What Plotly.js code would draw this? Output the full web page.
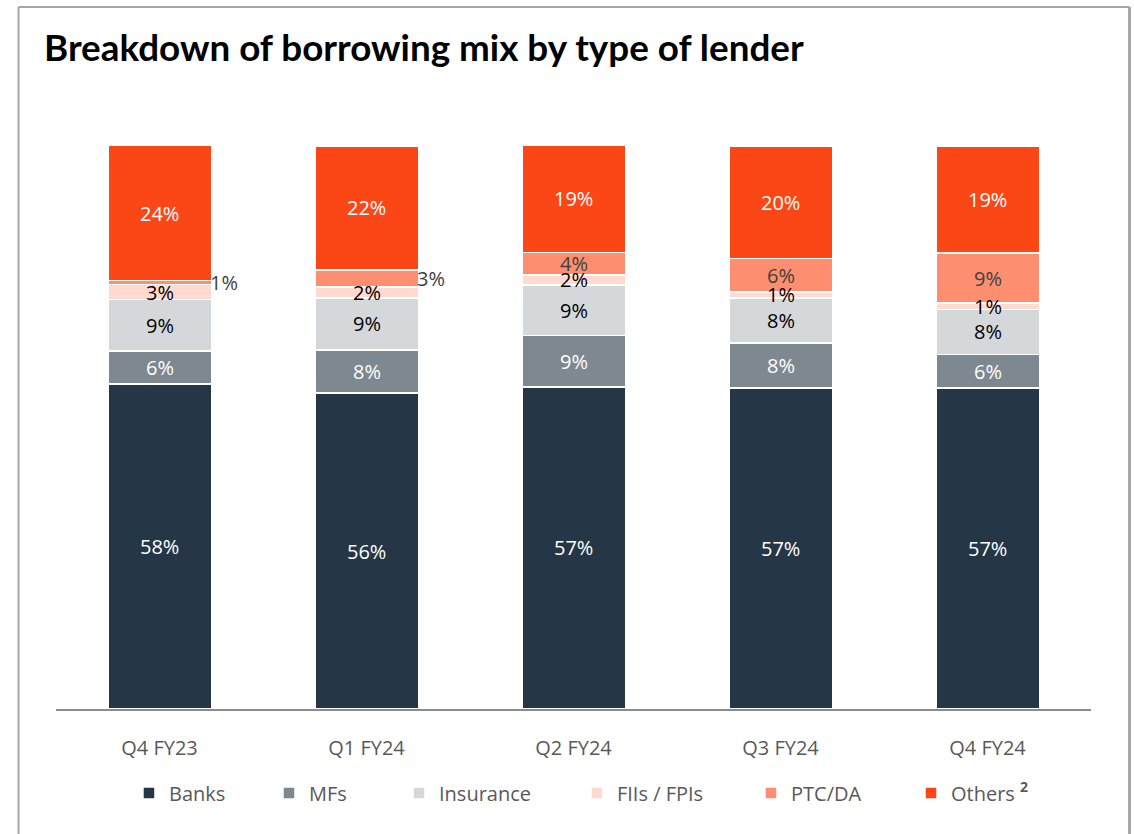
<!DOCTYPE html>
<html>
<head>
<meta charset="utf-8">
<script src="https://cdn.plot.ly/plotly-3.0.1.min.js"></script>
<style>html,body{margin:0;padding:0;background:#fff;}#chart{width:1134px;height:834px;}</style>
</head>
<body>
<div id="chart"></div>
<script>
// ---- data ----
var categories = ["Q4 FY23", "Q1 FY24", "Q2 FY24", "Q3 FY24", "Q4 FY24"];
var seriesNames = ["Banks", "MFs", "Insurance", "FIIs / FPIs", "PTC/DA", "Others <sup><b>2</b></sup>"];
var banks     = [57.7, 56.1, 57.2, 57.0, 57.0];
var mfs       = [5.9, 7.7, 9.1, 8.0, 6.0];
var insurance = [9.1, 9.2, 9.0, 8.0, 8.0];
var fiis      = [2.7, 2.0, 1.8, 1.1, 1.1];
var ptcda     = [0.7, 3.0, 4.0, 5.9, 8.9];
var others    = [24.0, 22.0, 19.0, 19.9, 19.0];
// labels drawn outside the segment (to the right of the bar)
var ptcOutside = [true, true, false, false, false];

// ---- styling ----
var colors = ["#253647", "#7E8890", "#D5D8DB", "#FFDAD0", "#FD8F70", "#FB4616"];
var labelColors = ["#FFFFFF", "#FFFFFF", "#000000", "#000000", "#404040", "#FFFFFF"];
var legendIds = ["legend", "legend2", "legend3", "legend4", "legend5", "legend6"];
var legendX = [0.0705, 0.2058, 0.3314, 0.5033, 0.6715, 0.8261];
var FONT = "Open Sans, Noto Sans, sans-serif";

var series = [banks, mfs, insurance, fiis, ptcda, others];

var traces = series.map(function (vals, i) {
  return {
    type: "bar",
    name: seriesNames[i],
    x: categories,
    y: vals,
    marker: {color: colors[i], line: {color: "#FFFFFF", width: 1.5}},
    legend: legendIds[i],
    hoverinfo: "skip"
  };
});

// segment labels computed from data
var annotations = [];
categories.forEach(function (cat, c) {
  var base = 0;
  series.forEach(function (vals, i) {
    var v = vals[c];
    var mid = base + v / 2;
    var txt = Math.round(v) + "%";
    if (i === 4 && ptcOutside[c]) {
      annotations.push({
        x: cat, y: mid, xref: "x", yref: "y", text: txt, showarrow: false,
        xanchor: "left", xshift: 48, yshift: 0,
        font: {family: FONT, size: 20, color: "#404040"}
      });
    } else {
      annotations.push({
        x: cat, y: mid, xref: "x", yref: "y", text: txt, showarrow: false,
        xanchor: "center", yanchor: "middle",
        font: {family: FONT, size: 20, color: labelColors[i]}
      });
    }
    base += v;
  });
});

var layout = {
  width: 1134, height: 834,
  paper_bgcolor: "#FFFFFF", plot_bgcolor: "#FFFFFF",
  margin: {l: 56, r: 43, t: 146, b: 125},
  barmode: "stack",
  bargap: 0.5,
  title: {
    text: "<b>Breakdown of borrowing mix by type of lender</b>",
    font: {family: "Lato, sans-serif", size: 36.8, color: "#000000"},
    x: 44 / 1134, xref: "container", xanchor: "left",
    y: 1 - 48 / 834, yref: "container", yanchor: "middle"
  },
  xaxis: {
    type: "category",
    showline: true, linecolor: "#8C8C8C", linewidth: 1.5,
    showgrid: false, zeroline: false, ticks: "",
    ticklabelstandoff: 20,
    tickfont: {family: FONT, size: 20, color: "#595959"}
  },
  yaxis: {
    range: [0, 100], visible: false, showgrid: false, zeroline: false, fixedrange: true
  },
  annotations: annotations,
  shapes: [
    {type: "line", xref: "paper", yref: "paper", x0: -0.0362, x1: -0.0362, y0: -0.3, y1: 1.2469, line: {color: "#A6A6A6", width: 2}},
    {type: "line", xref: "paper", yref: "paper", x0: -0.0362, x1: 1.0372, y0: 1.2469, y1: 1.2469, line: {color: "#A6A6A6", width: 2}},
    {type: "line", xref: "paper", yref: "paper", x0: 1.0372, x1: 1.0372, y0: -0.3, y1: 1.2469, line: {color: "#A6A6A6", width: 3}}
  ],
  showlegend: true
};

legendIds.forEach(function (id, i) {
  layout[id] = {
    x: legendX[i], y: -0.149, xanchor: "left", yanchor: "middle",
    orientation: "h", bgcolor: "rgba(0,0,0,0)", borderwidth: 0,
    font: {family: FONT, size: 20, color: "#595959"}
  };
});

Plotly.newPlot("chart", traces, layout, {displayModeBar: false, staticPlot: true});
</script>
</body>
</html>
